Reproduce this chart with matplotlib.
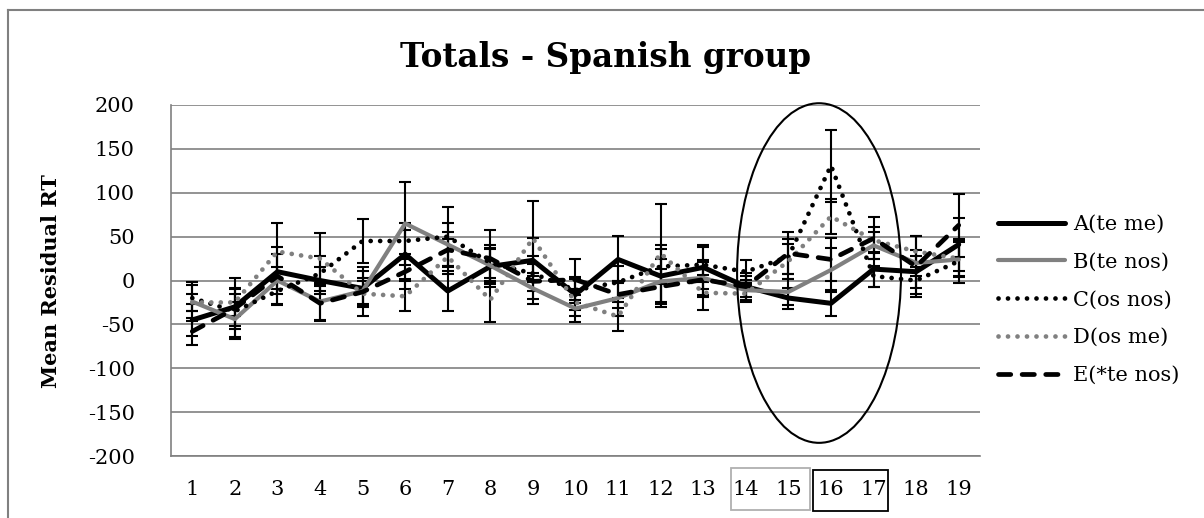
import matplotlib
matplotlib.use('Agg')
import matplotlib.pyplot as plt
from matplotlib.patches import Ellipse, Rectangle
from matplotlib.lines import Line2D
import numpy as np

plt.rcParams['font.family'] = ['DejaVu Serif']
plt.rcParams['axes.unicode_minus'] = False

# categories and series values
cats = list(range(1, 20))
a_te_me = [-45, -30, 10, 0, -9, 30, -12, 16, 23, -16, 24, 5, 15, -7, -20, -26, 13, 10, 41]
b_te_nos = [-24, -44, 0, -24, -12, 65, 41, 17, -9, -32, -20, -1, 3, -11, -13, 12, 40, 20, 24]
c_os_nos = [-20, -35, -12, 8, 45, 45, 50, 20, 8, -11, -2, 16, 18, 10, 27, 131, 5, 0, 22]
d_os_me = [-25, -25, 33, 25, -15, -18, 27, -22, 48, -25, -41, 31, -14, -15, 22, 73, 46, 33, 25]
e_te_nos = [-58, -32, 5, -26, -13, 10, 35, 25, -1, 1, -16, -7, 1, -7, 31, 24, 48, 16, 63]

# error bar half-widths
err_a = [18, 22, 20, 15, 20, 28, 23, 20, 25, 18, 27, 35, 25, 15, 12, 15, 20, 18, 30]
err_b = [22, 20, 15, 21, 15, 47, 25, 20, 18, 15, 20, 25, 20, 12, 15, 25, 15, 15, 20]
err_c = [15, 20, 15, 20, 25, 20, 34, 20, 20, 15, 18, 20, 20, 13, 20, 41, 12, 15, 25]
err_d = [10, 15, 33, 29, 15, 17, 20, 25, 43, 15, 16, 56, 20, 10, 20, 20, 15, 18, 20]
err_e = [15, 35, 33, 20, 28, 20, 20, 32, 20, 23, 15, 20, 20, 12, 24, 25, 24, 35, 36]

labels = ['A(te me)', 'B(te nos)', 'C(os nos)', 'D(os me)', 'E(*te nos)']
yticks = [200, 150, 100, 50, 0, -50, -100, -150, -200]

W, H = 1204, 518
fig = plt.figure(figsize=(W / 100, H / 100), dpi=100)
ax = fig.add_axes([171 / W, 1 - 456 / H, (980 - 171) / W, (456 - 105) / H])

gray = '#808080'
styles = [
    dict(color='black', lw=3.6, ls='-'),
    dict(color=gray, lw=3.0, ls='-'),
    dict(color='black', lw=3.4, ls=(0, (0.01, 2.0)), dash_capstyle='round'),
    dict(color=gray, lw=3.4, ls=(0, (0.01, 2.0)), dash_capstyle='round'),
    dict(color='black', lw=3.4, ls=(0, (2.6, 2.4)), dash_capstyle='round'),
]
series = [a_te_me, b_te_nos, c_os_nos, d_os_me, e_te_nos]
errs = [err_a, err_b, err_c, err_d, err_e]

for vals, err, st, lab in zip(series, errs, styles, labels):
    ax.errorbar(cats, vals, yerr=err, fmt='none', ecolor='black',
                elinewidth=1.5, capsize=4.5, capthick=1.5, zorder=3)
    ax.plot(cats, vals, label=lab, zorder=4, solid_capstyle='round', **st)

ax.set_xlim(0.5, 19.5)
ax.set_ylim(-200, 200)
ax.set_yticks(yticks)
ax.set_xticks(cats)
ax.tick_params(axis='both', length=0, labelsize=15)
ax.tick_params(axis='y', pad=26)
ax.tick_params(axis='x', pad=17)
ax.grid(axis='y', color=gray, lw=1.2)
ax.set_axisbelow(True)
for s in ['top', 'right']:
    ax.spines[s].set_visible(False)
for s in ['left', 'bottom']:
    ax.spines[s].set_color(gray)
    ax.spines[s].set_linewidth(1.2)

ax.set_ylabel('Mean Residual RT', fontsize=15, fontweight='bold')
ax.yaxis.set_label_coords(61 / W, 1 - 281 / H, transform=fig.transFigure)

fig.text(606 / W, 1 - 57 / H, 'Totals - Spanish group', ha='center', va='center',
         fontsize=23.5, fontweight='bold')

leg = ax.legend(loc='center left', bbox_to_anchor=(988 / W, 1 - 300 / H),
                bbox_transform=fig.transFigure, frameon=False, fontsize=15,
                handlelength=3.2, handletextpad=0.4, labelspacing=0.9, borderpad=0)

# circled region around items 15-17
ax.add_patch(Ellipse((15.72, 8.5), 3.85, 387, fill=False, ec='black', lw=1.5,
                     clip_on=False, zorder=5))

# boxes around x labels
fig.add_artist(Rectangle((731 / W, 1 - 510 / H), 79 / W, 42 / H, fill=False,
                         ec='#b0b0b0', lw=1.3, transform=fig.transFigure))
fig.add_artist(Rectangle((813 / W, 1 - 511 / H), 75 / W, 41 / H, fill=False,
                         ec='black', lw=1.3, transform=fig.transFigure))

# chart frame
fig.add_artist(Line2D([8 / W, 1], [1 - 10 / H, 1 - 10 / H], color=gray, lw=1.5,
                      transform=fig.transFigure))
fig.add_artist(Line2D([8 / W, 8 / W], [0, 1 - 10 / H], color=gray, lw=1.5,
                      transform=fig.transFigure))

fig.savefig('out.png', dpi=100)
